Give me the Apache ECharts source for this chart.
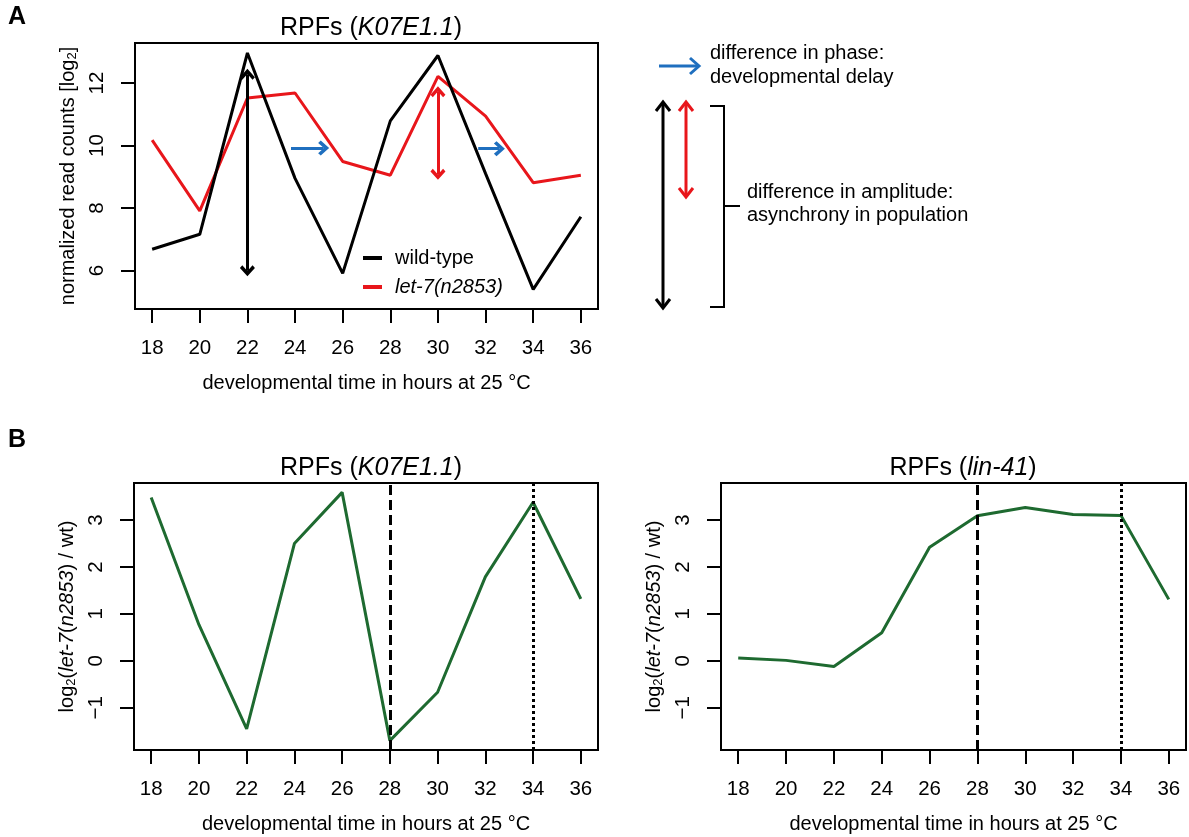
<html>
<head>
    <script src="https://cdn.jsdelivr.net/npm/echarts@6.0.0/dist/echarts.min.js"></script>
    <style>
        body { margin: 0; background: #fff; }
        #chart { width: 1189px; height: 837px; }
    </style>
</head>
<body>
    <div id="chart"></div>
    <script>
        // values
        const hours = [18, 20, 22, 24, 26, 28, 30, 32, 34, 36];
        const wildType = [6.68, 7.16, 12.96, 8.95, 5.91, 10.79, 12.88, 9.1, 5.40, 7.72];
        const let7 = [10.17, 7.91, 11.52, 11.68, 9.49, 9.05, 12.21, 10.94, 8.81, 9.05];
        const ratioK07 = [3.48, 0.77, -1.45, 2.50, 3.59, -1.70, -0.67, 1.79, 3.38, 1.32];
        const ratioLin41 = [0.06, 0.01, -0.12, 0.60, 2.42, 3.09, 3.27, 3.12, 3.10, 1.31];
        const ticksA = [6, 8, 10, 12];
        const ticksB = [-1, 0, 1, 2, 3];
        const markerHours = [28, 34];

        // annotation arrows in panel A (data units)
        const ampArrowWt = [[22, 12.28], [22, 5.99]];
        const ampArrowLet7 = [[30, 11.72], [30, 9.08]];
        const phaseArrows = [[[23.83, 9.92], [25.2, 9.92]], [[31.69, 9.9], [32.58, 9.9]]];

        const FONT = "'Liberation Sans', Arial, sans-serif";
        const chev = 'path://M7,0 L14,7 L11.8,9.2 L7,4.4 L2.2,9.2 L0,7 Z';
        const pairs = (ys) => hours.map((h, i) => [h, ys[i]]);

        const xAxisBase = (gridIndex) => ({
            type: 'value',
            gridIndex: gridIndex,
            min: 17.28,
            max: 36.72,
            axisLine: { show: false, onZero: false },
            axisTick: { show: true, customValues: hours, length: 14, lineStyle: { color: '#000', width: 2 } },
            axisLabel: { customValues: hours, margin: 29, color: '#000', fontSize: 20.5, fontFamily: FONT },
            splitLine: { show: false },
            name: 'developmental time in hours at 25 °C',
            nameLocation: 'middle',
            nameGap: 64,
            nameTextStyle: { color: '#000', fontSize: 20, fontFamily: FONT }
        });

        const yAxisBase = (gridIndex, min, max, ticks, name, rich) => ({
            type: 'value',
            gridIndex: gridIndex,
            min: min,
            max: max,
            axisLine: { show: false, onZero: false },
            axisTick: { show: true, customValues: ticks, length: 14, lineStyle: { color: '#000', width: 2 } },
            axisLabel: { customValues: ticks, rotate: 90, margin: 27, color: '#000', fontSize: 20.5, fontFamily: FONT,
                formatter: (v) => (v < 0 ? '\u2212' + Math.abs(v) : String(v)) },
            splitLine: { show: false },
            name: name,
            nameLocation: 'middle',
            nameRotate: 90,
            nameGap: 56,
            nameTextStyle: { color: '#000', fontSize: 20, fontFamily: FONT, rich: rich }
        });

        const subRich = {
            sub: { fontSize: 13, fontFamily: FONT, color: '#000', verticalAlign: 'bottom', padding: [9, 0, 0, 0] },
            i: { fontSize: 20, fontFamily: FONT, color: '#000', fontStyle: 'italic' }
        };

        const titleStyle = {
            fontSize: 25, fontWeight: 'normal', color: '#000', fontFamily: FONT,
            rich: { i: { fontSize: 25, fontStyle: 'italic', color: '#000', fontFamily: FONT } }
        };

        const boxGrid = (left, top, width, height) => ({
            left: left, top: top, width: width, height: height,
            show: true, borderColor: '#000', borderWidth: 2, backgroundColor: 'transparent'
        });

        const markerLines = {
            silent: true,
            symbol: 'none',
            label: { show: false },
            animation: false,
            data: [
                { xAxis: markerHours[0], lineStyle: { color: '#000', width: 3, type: [10, 5] } },
                { xAxis: markerHours[1], lineStyle: { color: '#000', width: 3, type: [3, 3] } }
            ]
        };

        const myChart = echarts.init(document.getElementById('chart'));

        const blue = '#1f6fbf';
        const red = '#e8161b';
        const green = '#1e6a30';
        const txt = (x, y, s) => ({ type: 'text', x: x, y: y,
            style: { text: s, fontSize: 20, fontFamily: FONT, fill: '#000', verticalAlign: 'middle' } });

        const option = {
            animation: false,
            textStyle: { fontFamily: FONT },
            title: [
                { text: 'RPFs ({i|K07E1.1})', left: 366, top: 11, textAlign: 'center', textStyle: titleStyle },
                { text: 'RPFs ({i|K07E1.1})', left: 366, top: 451, textAlign: 'center', textStyle: titleStyle },
                { text: 'RPFs ({i|lin-41})', left: 958, top: 451, textAlign: 'center', textStyle: titleStyle }
            ],
            legend: {
                data: ['wild-type', 'let-7(n2853)'],
                left: 358,
                top: 243,
                orient: 'vertical',
                icon: 'rect',
                itemWidth: 19,
                itemHeight: 4,
                itemGap: 9,
                textStyle: {
                    color: '#000', fontSize: 20, fontFamily: FONT, padding: [0, 0, 0, 8],
                    rich: { i: { fontStyle: 'italic', fontSize: 20, color: '#000', fontFamily: FONT } }
                },
                formatter: (name) => (name === 'let-7(n2853)' ? '{i|' + name + '}' : name)
            },
            grid: [
                boxGrid(135, 43, 463, 266),
                boxGrid(134, 483, 464, 267),
                boxGrid(721, 483, 465, 267)
            ],
            xAxis: [xAxisBase(0), xAxisBase(1), xAxisBase(2)],
            yAxis: [
                yAxisBase(0, 4.77, 13.28, ticksA, 'normalized read counts [log{sub|2}]', subRich),
                yAxisBase(1, -1.9, 3.79, ticksB, 'log{sub|2}({i|let-7}({i|n2853}) / wt)', subRich),
                yAxisBase(2, -1.9, 3.79, ticksB, 'log{sub|2}({i|let-7}({i|n2853}) / wt)', subRich)
            ],
            series: [
                {
                    name: 'wild-type', type: 'line', xAxisIndex: 0, yAxisIndex: 0,
                    data: pairs(wildType), symbol: 'none', color: '#000',
                    lineStyle: { color: '#000', width: 3 }, z: 3
                },
                {
                    name: 'let-7(n2853)', type: 'line', xAxisIndex: 0, yAxisIndex: 0,
                    data: pairs(let7), symbol: 'none', color: red,
                    lineStyle: { color: red, width: 3 }, z: 2,
                    markLine: {
                        silent: true,
                        animation: false,
                        symbol: [chev, chev],
                        symbolSize: [15, 11],
                        label: { show: false },
                        data: [
                            [{ coord: ampArrowWt[0], lineStyle: { color: '#000', width: 3, type: 'solid' } }, { coord: ampArrowWt[1] }],
                            [{ coord: ampArrowLet7[0], lineStyle: { color: red, width: 3, type: 'solid' } }, { coord: ampArrowLet7[1] }],
                            [{ coord: phaseArrows[0][0], symbol: 'none', lineStyle: { color: blue, width: 3, type: 'solid' } }, { coord: phaseArrows[0][1] }],
                            [{ coord: phaseArrows[1][0], symbol: 'none', lineStyle: { color: blue, width: 3, type: 'solid' } }, { coord: phaseArrows[1][1] }]
                        ]
                    }
                },
                {
                    name: 'ratio K07E1.1', type: 'line', xAxisIndex: 1, yAxisIndex: 1,
                    data: pairs(ratioK07), symbol: 'none',
                    lineStyle: { color: green, width: 3 }, markLine: markerLines
                },
                {
                    name: 'ratio lin-41', type: 'line', xAxisIndex: 2, yAxisIndex: 2,
                    data: pairs(ratioLin41), symbol: 'none',
                    lineStyle: { color: green, width: 3 }, markLine: markerLines
                }
            ],
            graphic: [
                { type: 'text', left: 8, top: 5, style: { text: 'A', fontSize: 25, fontWeight: 'bold', fontFamily: FONT, fill: '#000' } },
                { type: 'text', left: 8, top: 428, style: { text: 'B', fontSize: 25, fontWeight: 'bold', fontFamily: FONT, fill: '#000' } },
                // key: phase arrow
                { type: 'line', shape: { x1: 659, y1: 66, x2: 698, y2: 66 }, style: { stroke: blue, lineWidth: 3 } },
                { type: 'polyline', shape: { points: [[690, 58], [699, 66], [690, 74]] }, style: { stroke: blue, lineWidth: 3, fill: null } },
                txt(710, 53, 'difference in phase:'),
                txt(710, 77, 'developmental delay'),
                // key: amplitude arrows
                { type: 'line', shape: { x1: 663, y1: 103, x2: 663, y2: 307 }, style: { stroke: '#000', lineWidth: 3 } },
                { type: 'polyline', shape: { points: [[656, 111], [663, 102], [670, 111]] }, style: { stroke: '#000', lineWidth: 3, fill: null } },
                { type: 'polyline', shape: { points: [[656, 299], [663, 308], [670, 299]] }, style: { stroke: '#000', lineWidth: 3, fill: null } },
                { type: 'line', shape: { x1: 686, y1: 103, x2: 686, y2: 196 }, style: { stroke: red, lineWidth: 3 } },
                { type: 'polyline', shape: { points: [[679, 111], [686, 102], [693, 111]] }, style: { stroke: red, lineWidth: 3, fill: null } },
                { type: 'polyline', shape: { points: [[679, 188], [686, 197], [693, 188]] }, style: { stroke: red, lineWidth: 3, fill: null } },
                // bracket
                { type: 'polyline', shape: { points: [[710, 106], [724, 106], [724, 307], [710, 307]] }, style: { stroke: '#000', lineWidth: 2, fill: null } },
                { type: 'line', shape: { x1: 724, y1: 206, x2: 740, y2: 206 }, style: { stroke: '#000', lineWidth: 2 } },
                txt(747, 192, 'difference in amplitude:'),
                txt(747, 215, 'asynchrony in population')
            ]
        };

        myChart.setOption(option);
    </script>
</body>
</html>
